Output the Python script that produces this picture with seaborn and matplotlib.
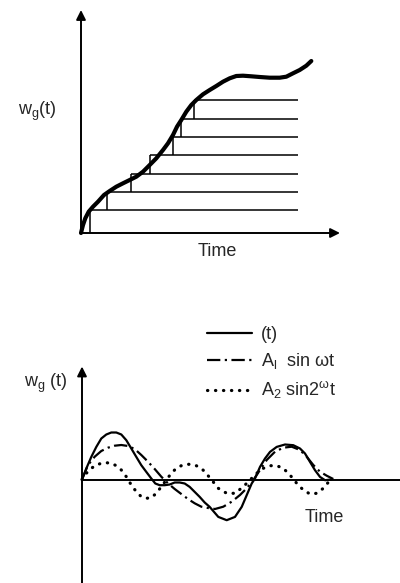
import matplotlib
matplotlib.use("Agg")
import matplotlib.pyplot as plt
import seaborn as sns
from matplotlib.lines import Line2D

# ---------------- data ----------------
# top panel: cumulative curve w_g(t)
top_t = [0, 0.2, 0.43, 0.77, 1.2, 1.7, 2.3, 2.87, 3.53, 4.2, 4.87, 5.53, 6.2, 6.87,
         7.53, 8.2, 8.7, 9.2, 9.6, 10.03, 10.53, 11.03, 11.53, 12.2, 12.87, 13.53,
         14.2, 14.87, 15.53, 16.2, 17.03, 17.87, 18.87, 19.87, 20.53, 21.2, 21.87,
         22.53, 23.03]
top_w = [0, 0.8, 1.47, 2.13, 2.63, 3.13, 3.8, 4.2, 4.63, 4.97, 5.3, 5.63, 6.13, 6.8,
         7.47, 8.3, 8.97, 9.8, 10.63, 11.3, 12.13, 12.8, 13.3, 13.87, 14.3, 14.7,
         15.13, 15.47, 15.7, 15.73, 15.67, 15.6, 15.53, 15.53, 15.63, 15.97, 16.3,
         16.73, 17.2]
# staircase approximation
step_t = [0.87, 2.63, 4.97, 6.87, 9.2, 9.97, 11.3]
step_w = [2.3, 4.07, 5.87, 7.8, 9.63, 11.4, 13.3]
step_end = 21.7

# bottom panel: signal and its two harmonic components
sig_t = [0, 0.43, 0.93, 1.43, 1.93, 2.43, 2.93, 3.43, 3.93, 4.43, 4.93, 5.43, 5.93,
         6.43, 6.93, 7.33, 7.77, 8.27, 8.77, 9.27, 9.77, 10.27, 10.77, 11.27, 11.77,
         12.27, 12.77, 13.63, 14.47, 15.3, 15.97, 16.47, 16.97, 17.3, 17.8, 18.3,
         18.8, 19.47, 20.3, 21.13, 21.8, 22.3, 22.8, 23.3, 23.8, 24.3, 24.9]
sig_v = [0, 1.1, 2.26, 3.26, 4.1, 4.5, 4.7, 4.7, 4.5, 3.93, 3.1, 2.26, 1.43,
         0.76, 0.1, -0.4, -0.57, -0.57, -0.5, -0.3, -0.3, -0.4, -0.74, -1.24, -1.74,
         -2.3, -2.74, -3.74, -4.07, -3.74, -2.74, -1.57, -0.4, 0.1, 1.26, 2.1,
         2.76, 3.26, 3.5, 3.43, 3.1, 2.6, 1.76, 0.93, 0.26, -0.07, 0]
h1_t = [0, 0.6, 1.27, 1.93, 2.6, 3.27, 3.93, 4.6, 5.27, 5.93, 6.6, 7.27, 7.93, 8.6,
        9.27, 9.93, 10.6, 11.27, 11.93, 12.77, 13.3, 14.13, 14.97, 15.8, 16.47,
        17.13, 17.8, 18.47, 19.3, 20.13, 20.97, 21.8, 22.47, 23.13, 23.8, 24.47, 25.13]
h1_v = [0, 1.45, 2.28, 2.85, 3.18, 3.38, 3.45, 3.35, 3.05, 2.45, 1.78, 1.05, 0.28,
        -0.38, -0.95, -1.45, -1.95, -2.38, -2.72, -2.88, -2.95, -2.72, -2.22, -1.55,
        -0.88, -0.05, 0.95, 1.95, 2.78, 3.18, 3.28, 2.95, 2.28, 1.45, 0.78, 0.38, 0.05]
h2_t = [0, 0.43, 0.93, 1.43, 1.93, 2.43, 2.93, 3.43, 3.93, 4.43, 4.93, 5.43, 5.93,
        6.43, 6.93, 7.43, 7.93, 8.43, 8.93, 9.43, 9.93, 10.43, 10.93, 11.43, 11.93,
        12.3, 12.97, 13.63, 14.47, 15.3, 16.13, 16.8, 17.47, 18.13, 18.8, 19.47,
        20.13, 20.8, 21.47, 22.13, 22.8, 23.47, 24.13, 24.63]
h2_v = [0, 0.62, 1.12, 1.45, 1.62, 1.68, 1.62, 1.38, 0.95, 0.28, -0.55, -1.22, -1.72,
        -1.88, -1.82, -1.38, -0.72, -0.05, 0.62, 1.12, 1.38, 1.52, 1.52, 1.38, 1.12,
        0.75, -0.05, -0.88, -1.38, -1.38, -0.72, -0.05, 0.62, 1.12, 1.38, 1.38,
        1.12, 0.45, -0.38, -1.05, -1.45, -1.38, -0.88, -0.28]

legend_labels = ["(t)",
                 r"A$_{\mathregular{l}}$  sin ωt",
                 r"A$_{\mathregular{2}}$ sin2$^{\mathregular{ω}}$t"]
ylabel_top = r"w$_{\mathregular{g}}$(t)"
ylabel_bot = r"w$_{\mathregular{g}}$ (t)"
xlabel = "Time"

# ---------------- styling ----------------
sns.set_theme(style="white")
plt.rcParams["font.family"] = ["Liberation Sans", "DejaVu Sans"]
plt.rcParams["mathtext.fontset"] = "custom"
plt.rcParams["mathtext.rm"] = "Liberation Sans"
plt.rcParams["mathtext.it"] = "Liberation Sans"

fig = plt.figure(figsize=(4, 5.83), dpi=100)
fig.patch.set_facecolor("white")

ax_top = fig.add_axes([0, 293 / 583, 1, 290 / 583])
ax_top.set_xlim(-8.1, 31.9)
ax_top.set_ylim(-5.7, 23.3)
ax_top.axis("off")

ax_bot = fig.add_axes([0, 0, 1, 293 / 583])
ax_bot.set_xlim(-8.2, 31.8)
ax_bot.set_ylim(-10.35, 18.95)
ax_bot.axis("off")

arrow = dict(arrowstyle="-|>", color="black", lw=1.4, mutation_scale=14,
             shrinkA=0, shrinkB=0)

# ---------------- top panel ----------------
ax_top.annotate("", xy=(0, 22.3), xytext=(0, 0), arrowprops=arrow)
ax_top.annotate("", xy=(25.9, 0), xytext=(0, 0), arrowprops=arrow)

prev = 0
for st, sw in zip(step_t, step_w):
    ax_top.vlines(st, prev, sw, color="black", lw=1.1)
    ax_top.hlines(sw, st, step_end, color="black", lw=1.1)
    prev = sw

sns.lineplot(x=top_t, y=top_w, ax=ax_top, color="black", lw=3.0,
             sort=False, estimator=None, solid_capstyle="round",
             solid_joinstyle="round")

ax_top.text(-4.4, 12.2, ylabel_top, fontsize=13, ha="center", va="center")
ax_top.text(13.6, -1.9, xlabel, fontsize=13, ha="center", va="center")

# ---------------- bottom panel ----------------
ax_bot.annotate("", xy=(0, 11.3), xytext=(0, -10.35), arrowprops=arrow)
ax_bot.hlines(0, 0, 31.8, color="black", lw=1.4)

sns.lineplot(x=sig_t, y=sig_v, ax=ax_bot, color="black", lw=1.6,
             sort=False, estimator=None, solid_joinstyle="round")
sns.lineplot(x=h1_t, y=h1_v, ax=ax_bot, color="black", lw=1.6,
             sort=False, estimator=None, linestyle=(0, (6, 2, 1, 2)))
sns.lineplot(x=h2_t, y=h2_v, ax=ax_bot, color="black", lw=2.3,
             sort=False, estimator=None, linestyle=(0, (0.1, 2.4)),
             dash_capstyle="round")

handles = [Line2D([], [], color="black", lw=1.6),
           Line2D([], [], color="black", lw=1.6, linestyle=(0, (6, 2, 1, 2))),
           Line2D([], [], color="black", lw=2.3, linestyle=(0, (0.1, 2.4)),
                  dash_capstyle="round")]
ax_bot.legend(handles, legend_labels, loc="upper left",
              bbox_to_anchor=(207 / 400, 1 - 326 / 583),
              bbox_transform=fig.transFigure, frameon=False, fontsize=13,
              borderpad=0, borderaxespad=0, handlelength=2.5,
              handletextpad=0.5, labelspacing=0.45)

ax_bot.text(-3.6, 9.6, ylabel_bot, fontsize=13, ha="center", va="center")
ax_bot.text(24.2, -3.8, xlabel, fontsize=13, ha="center", va="center")

fig.savefig("out.png", dpi=100, facecolor="white")
